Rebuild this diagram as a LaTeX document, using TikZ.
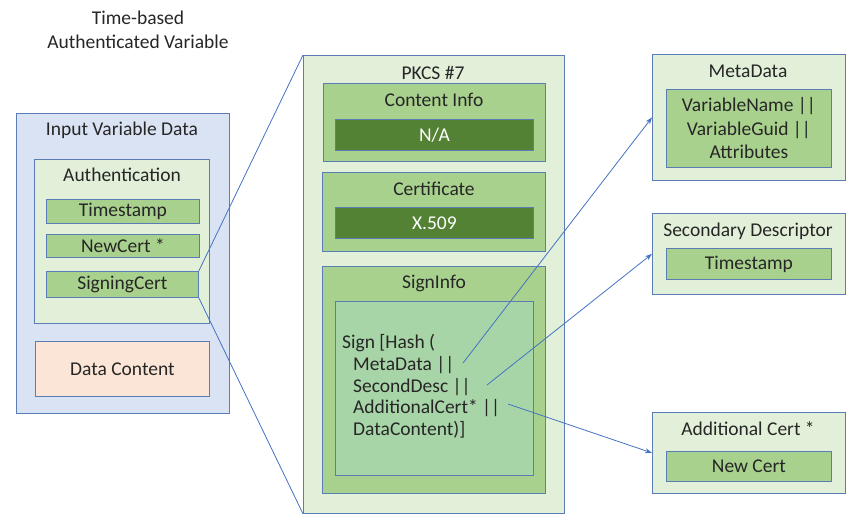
\documentclass[tikz,border=0pt]{standalone}
\usepackage{fontspec}
\setmainfont{Carlito}
\usetikzlibrary{arrows.meta}
\definecolor{bordc}{HTML}{5B7DB5}
\definecolor{linec}{HTML}{4472C4}
\definecolor{bluefill}{HTML}{DAE3F3}
\definecolor{lgreen}{HTML}{E2F0D9}
\definecolor{mgreen}{HTML}{A9D18E}
\definecolor{dgreen}{HTML}{548235}
\definecolor{mint}{HTML}{A8D5A8}
\definecolor{peach}{HTML}{FBE5D6}
\definecolor{txt}{HTML}{262626}
\begin{document}
\begin{tikzpicture}[x=1pt,y=-1pt,
  font=\fontsize{19.5}{24}\selectfont, text=txt,
  box/.style={draw=bordc, line width=0.8pt, inner sep=0pt, anchor=north west},
  lbl/.style={inner sep=0pt, text=txt},
  conn/.style={draw=linec, line width=0.8pt},
  arr/.style={conn, -{Stealth[length=7pt,width=5pt]}}]
\useasboundingbox (0,0) rectangle (862,520);

% title
\node[lbl, align=center] (title) at (138,30) {Time-based\\Authenticated Variable};

% left
\node[box, fill=bluefill, minimum width=213pt, minimum height=300pt] (ivd) at (16,113) {};
\node[lbl] (ivdl) at (122,130) {Input Variable Data};
\node[box, fill=lgreen, minimum width=175pt, minimum height=164pt] (auth) at (34,159) {};
\node[lbl] (authl) at (122,175) {Authentication};
\node[box, fill=mgreen, minimum width=153pt, minimum height=24pt] (ts) at (46,199) {};
\node[lbl] at (ts.center) {Timestamp};
\node[box, fill=mgreen, minimum width=153pt, minimum height=23pt] (nc) at (46,234) {};
\node[lbl] at (nc.center) {NewCert *};
\node[box, fill=mgreen, minimum width=152pt, minimum height=26pt] (sc) at (46,271) {};
\node[lbl] at (sc.center) {SigningCert};
\node[box, fill=peach, minimum width=174pt, minimum height=55pt] (dc) at (35,341) {};
\node[lbl] at (dc.center) {Data Content};

% PKCS
\node[box, fill=lgreen, minimum width=261pt, minimum height=458pt] (pkcs) at (303,55) {};
\node[lbl] (pkcsl) at (433,73) {PKCS \#7};
\node[box, fill=mgreen, minimum width=222pt, minimum height=78pt] (ci) at (323,83) {};
\node[lbl] (cil) at (434,100) {Content Info};
\node[box, fill=dgreen, minimum width=198pt, minimum height=31pt] (na) at (335,119) {};
\node[lbl, text=white] at (na.center) {N/A};
\node[box, fill=mgreen, minimum width=223pt, minimum height=79pt] (cert) at (322,172) {};
\node[lbl] (certl) at (434,189) {Certificate};
\node[box, fill=dgreen, minimum width=198pt, minimum height=31pt] (x509) at (335,207) {};
\node[lbl, text=white] at (x509.center) {X.509};
\node[box, fill=mgreen, minimum width=223pt, minimum height=227pt] (si) at (322,266) {};
\node[lbl] (sil) at (434,283) {SignInfo};
\node[box, fill=mint, minimum width=198pt, minimum height=174pt] (sign) at (335,301) {};
\node[lbl, anchor=west] (ln1) at (342,343) {Sign [Hash (};
\node[lbl, anchor=west] (ln2) at (353,365) {MetaData ||};
\node[lbl, anchor=west] (ln3) at (353,387) {SecondDesc ||};
\node[lbl, anchor=west] (ln4) at (353,408) {AdditionalCert* ||};
\node[lbl, anchor=west] (ln5) at (353,430) {DataContent)]};

% right
\node[box, fill=lgreen, minimum width=193pt, minimum height=126pt] (meta) at (652,54) {};
\node[lbl] (metal) at (748,71) {MetaData};
\node[box, fill=mgreen, minimum width=165pt, minimum height=78pt] (metai) at (666,89) {};
\node[lbl, align=center, font=\fontsize{19.5}{23.5}\selectfont] at (metai.center) {VariableName ||\\VariableGuid ||\\Attributes};

\node[box, fill=lgreen, minimum width=193pt, minimum height=81pt] (sd) at (652,213) {};
\node[lbl] (sdl) at (748,231) {Secondary Descriptor};
\node[box, fill=mgreen, minimum width=165pt, minimum height=31pt] (sdi) at (666,248) {};
\node[lbl] at (sdi.center) {Timestamp};

\node[box, fill=lgreen, minimum width=193pt, minimum height=81pt] (ac) at (652,412) {};
\node[lbl] (acl) at (748,429) {Additional Cert *};
\node[box, fill=mgreen, minimum width=165pt, minimum height=30pt] (aci) at (666,451) {};
\node[lbl] at (aci.center) {New Cert};

% connectors
\draw[conn] (sc.north east) -- (pkcs.north west);
\draw[conn] (sc.south east) -- (pkcs.south west);
\coordinate (s1) at (463,363);
\coordinate (s2) at (487,385);
\coordinate (s3) at (508,404);
\draw[arr] (s1) -- (meta.west);
\draw[arr] (s2) -- (sd.west);
\draw[arr] (s3) -- (ac.west);
\end{tikzpicture}
\end{document}
